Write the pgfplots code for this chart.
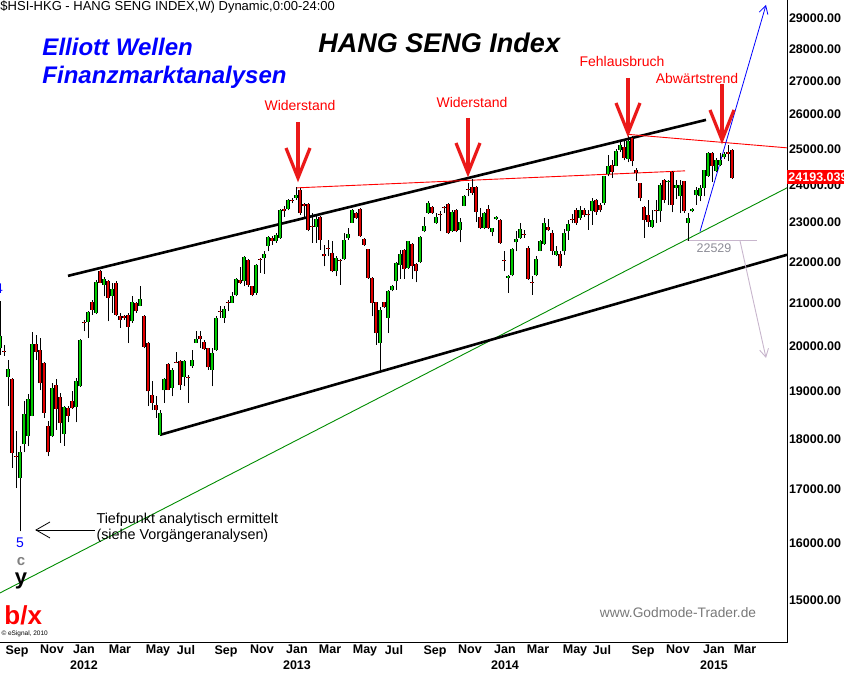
\documentclass[border=0pt]{standalone}
\usepackage{fontspec}
\setmainfont{Liberation Sans}
\usepackage{pgfplots}
\pgfplotsset{compat=1.18}
\usepackage{pgfplotstable}
\usetikzlibrary{arrows.meta}

\definecolor{cgreen}{RGB}{0,205,0}
\definecolor{cred}{RGB}{225,0,0}
\definecolor{ared}{RGB}{235,25,25}
\definecolor{tgreen}{RGB}{0,140,0}
\definecolor{greyline}{RGB}{200,182,205}
\definecolor{webgrey}{RGB}{120,120,120}
\definecolor{numgrey}{RGB}{140,140,150}

% weekly candles: g = week index (0 = last week of Aug 2011), o h l c
\pgfplotstableread{
g o h l c
0 19950 21050 19800 20215
2 19311 19692 18680 19494
5 17222 17848 16211 17737
6 17895 18800 17729 18520
7 18069 18947 17848 18842
8 18484 20308 18470 20045
13 18063 19180 18048 19070
16 18099 18680 17867 18674
19 18659 19290 18343 19231
20 19106 20161 19092 20138
22 20550 20807 20179 20790
24 20760 21561 20744 21505
26 21439 21627 21153 21578
28 21153 21480 20760 21334
33 20565 21153 20527 21017
35 20930 21415 20914 21090
40 18084 18610 18070 18541
41 19018 19290 18752 19275
43 19070 19510 18890 19457
46 19311 19692 19106 19655
48 19545 19912 19510 19692
49 20075 20331 20063 20154
53 19472 19949 19106 19839
54 19912 20680 19897 20643
56 20643 20914 20527 20853
58 21007 21251 20993 21153
59 21178 21602 21153 21578
61 21519 22152 21397 22119
64 21236 21951 21195 21927
66 22093 22261 21707 22200
67 22406 22642 22261 22627
69 22515 22728 22474 22685
70 22601 23354 22576 23335
72 23354 23620 23317 23582
74 23646 23939 23601 23734
79 22896 23175 22474 23088
84 21763 22134 21641 22093
86 22068 22728 22051 22558
87 22591 22855 22558 22710
88 22997 23354 22982 23335
95 20063 20900 19435 20821
97 20643 21300 20294 21275
98 21300 21439 21275 21397
99 21519 21983 21317 21968
100 21927 22304 21578 22200
102 21846 22533 21822 22515
105 21983 22642 21968 22627
106 22787 23141 22744 22914
107 23247 23556 23229 23513
109 22982 23247 22964 23141
113 22769 23335 22753 23263
115 22812 23114 22490 23024
116 23441 23734 23423 23707
121 22855 23263 22830 23247
123 22753 22870 22642 22855
124 23088 23175 23062 23141
127 21602 21683 21236 21641
128 21666 22347 21641 22322
129 22490 22769 22261 22576
130 22601 22997 22576 22830
134 21683 22134 21641 22068
135 22279 22558 22261 22515
136 22449 23114 22431 22997
139 22177 22388 22134 22279
141 22261 22830 22177 22728
142 22769 23066 22558 22957
145 23114 23423 23066 23335
148 23290 23646 22939 23556
151 23513 24250 23468 24231
152 24297 24833 24231 24528
154 24528 24991 24509 24944
155 24972 25260 24925 25116
157 24722 25380 24620 25211
163 22896 23335 22855 23066
165 23290 24047 23024 24000
167 24080 24139 23468 24100
169 23912 24139 23620 24000
170 23689 24139 23247 24000
172 22982 23247 22529 23114
173 23290 23380 23263 23354
174 23715 23956 23468 23867
175 23689 24000 23556 23912
176 23912 24416 23689 24397
177 24250 24925 24214 24880
179 24370 24741 24342 24694
180 24556 24880 24509 24694
181 24758 24925 24713 24853
}\upcandles

\pgfplotstableread{
g o h l c
1 19880 20020 19780 19870
3 19275 19290 17420 17717
4 17660 18154 17024 17640
9 20045 20254 19677 19875
10 19912 20179 19018 19180
11 19619 19633 18436 18541
12 18259 18379 17650 17729
14 19128 19268 18190 18625
15 18884 18962 17927 18331
17 18646 18695 18343 18484
18 18800 18996 18625 18646
21 20540 20604 20331 20520
23 21030 21070 20720 20837
25 21773 21790 21470 21480
27 21519 21561 20565 21114
29 21480 21519 20680 20720
30 20697 20760 20410 20604
31 20680 20720 20604 20650
32 20720 20760 20063 20433
34 21007 21030 20760 20797
36 20680 20720 19949 19985
37 20063 20080 18680 18996
38 18926 19215 18610 18752
39 18716 18890 18436 18610
42 19604 19619 19018 19033
44 19640 19875 19619 19625
45 19655 19692 19033 19128
47 19320 19362 18752 19300
50 20215 20331 19949 20154
51 20084 20138 19912 19927
52 19949 19963 19472 19523
55 20800 20914 20643 20790
57 21020 21070 20797 21010
60 21561 21871 21464 21480
62 22051 22068 21383 21439
63 21397 21415 21153 21195
65 22060 22093 21724 22045
68 22601 22660 22431 22533
71 23362 23423 23157 23290
73 23605 23646 23513 23595
75 23867 23912 23202 23247
76 23494 23510 23114 23423
77 23494 23510 22769 22812
78 22900 23247 22474 22890
80 23141 23175 22304 22558
81 22200 22431 21885 22134
82 22355 22558 22134 22340
83 22218 22533 21739 21763
85 22040 22068 21439 22025
89 23247 23263 23088 23114
90 23354 23370 22627 22642
91 22576 22591 22406 22423
92 22322 22330 21578 21602
93 21602 21627 20680 20993
94 21017 21030 20023 20294
96 21017 21030 20877 20900
101 22304 22322 21578 21822
103 22457 22474 21578 21885
104 21944 21968 21495 21763
108 23407 23423 23229 23247
110 23230 23290 22769 23215
111 23400 23423 23247 23390
112 23486 23513 22710 22728
114 23335 23354 22753 22769
117 23895 24050 23689 23880
118 23955 24170 23734 23779
119 23955 23973 23024 23274
120 23141 23380 22830 22855
122 23354 23468 22830 22855
125 23069 23088 22457 22474
126 22040 22261 21763 22025
131 22710 22812 22601 22695
132 22347 22389 21561 21578
133 21505 21641 21195 21480
137 22896 23088 22769 22794
138 22728 22812 22177 22279
140 22193 22261 21846 21885
143 23100 23221 22982 23085
144 23335 23380 22939 22982
146 23317 23380 23157 23202
147 23210 23335 22812 23195
149 23601 23620 23202 23263
150 23468 23513 23263 23317
153 24556 24694 24186 24342
156 25066 25260 24675 24741
158 25310 25356 24508 24648
159 24416 24463 24120 24325
160 24047 24064 23556 23646
161 23407 23423 22601 23066
162 23202 23601 22896 23024
164 23335 23601 22982 23290
166 24139 24158 23513 23601
168 24342 24370 23263 23468
171 24111 24120 23247 23290
178 24880 24925 24092 24528
182 24908 25116 24647 24853
183 24972 24991 24160 24193
}\downcandles

\pgfplotsset{candle/.style={only marks, mark=*, mark size=0pt,
  mark options={draw opacity=0, fill opacity=0}, forget plot,
  error bars/y dir=plus, error bars/y explicit, error bars/error mark=none}}

\begin{document}
% 1 reference pixel = 0.4pt
\begin{tikzpicture}
\begin{axis}[
  at={(0pt,12.4pt)}, anchor=south west,
  scale only axis, width=314.8pt, height=257.2pt,
  xmin=0, xmax=196.75,
  ymode=log, ymin=14287, ymax=29597,
  axis x line*=bottom, axis y line*=right,
  axis line style={black, line width=0.4pt, -},
  major tick length=0pt, minor tick length=0pt,
  ytick={15000,16000,17000,18000,19000,20000,21000,22000,23000,24000,25000,26000,27000,28000,29000},
  yticklabels={15000.00,16000.00,17000.00,18000.00,19000.00,20000.00,21000.00,22000.00,23000.00,24000.00,25000.00,26000.00,27000.00,28000.00,29000.00},
  yticklabel style={font=\fontsize{5}{5.6}\selectfont\bfseries, anchor=west, inner sep=0.6pt, text=black},
  xtick={4.25,13,21,30,39.5,46.5,56.5,65.5,74.25,82.5,91.25,98.5,108.75,117.5,126.25,134.5,143.75,150.5,160.75,169.5,178.5,186.25},
  xticklabels={Sep,Nov,{Jan\\2012},Mar,May,Jul,Sep,Nov,{Jan\\2013},Mar,May,Jul,Sep,Nov,{Jan\\2014},Mar,May,Jul,Sep,Nov,{Jan\\2015},Mar},
  xticklabel style={font=\fontsize{5}{6.4}\selectfont\bfseries, align=center, anchor=north, inner sep=0.8pt},
  clip=true,
]
% trend lines
\addplot[tgreen, line width=0.36pt, forget plot] coordinates {(0,15119) (196.75,23921)};
\addplot[black, line width=1.04pt, forget plot] coordinates {(17,21652) (176.5,25836)};
\addplot[black, line width=1.04pt, forget plot] coordinates {(40,18084) (196.75,22174)};
\addplot[red, line width=0.36pt, forget plot] coordinates {(74.25,23921) (171.25,24386)};
\addplot[red, line width=0.36pt, forget plot] coordinates {(157,25415) (196.75,25030)};
\addplot[greyline, line width=0.36pt, forget plot] coordinates {(171.75,22529) (189.25,22529)};
\addplot[greyline, line width=0.36pt, forget plot, -{Straight Barb[length=3.2pt,width=3.6pt]}] coordinates {(185,22529) (191.5,19732)};
\addplot[blue, line width=0.32pt, forget plot, -{Straight Barb[length=3.2pt,width=3.6pt]}] coordinates {(175,22766) (191.5,29430)};

% wicks
\addplot[candle, error bars/error bar style={black, line width=0.4pt, solid, draw opacity=1}]
  table[x=g, y=l, y error plus expr=\thisrow{h}-\thisrow{l}] {\upcandles};
\addplot[candle, error bars/error bar style={black, line width=0.4pt, solid, draw opacity=1}]
  table[x=g, y=l, y error plus expr=\thisrow{h}-\thisrow{l}] {\downcandles};
% body outlines
\addplot[candle, error bars/error bar style={black, line width=1.28pt, line cap=butt, solid, draw opacity=1}]
  table[x=g, y=o, y error plus expr=\thisrow{c}-\thisrow{o}] {\upcandles};
\addplot[candle, error bars/error bar style={black, line width=1.28pt, line cap=butt, solid, draw opacity=1}]
  table[x=g, y=c, y error plus expr=\thisrow{o}-\thisrow{c}] {\downcandles};
% body fills
\addplot[candle, error bars/error bar style={cgreen, line width=0.52pt, line cap=butt, solid, draw opacity=1}]
  table[x=g, y=o, y error plus expr=\thisrow{c}-\thisrow{o}] {\upcandles};
\addplot[candle, error bars/error bar style={cred, line width=0.52pt, line cap=butt, solid, draw opacity=1}]
  table[x=g, y=c, y error plus expr=\thisrow{o}-\thisrow{c}] {\downcandles};
\end{axis}

\begin{scope}[x=0.4pt,y=0.4pt]
% header and titles
\node[anchor=west, inner sep=0, font=\fontsize{5.2}{6}\selectfont] at (0,667) {\$HSI-HKG - HANG SENG INDEX,W) Dynamic,0:00-24:00};
\node[anchor=west, inner sep=0, text=blue, font=\fontsize{9.6}{11}\selectfont\bfseries\itshape] at (42,627) {Elliott Wellen};
\node[anchor=west, inner sep=0, text=blue, font=\fontsize{9.6}{11}\selectfont\bfseries\itshape] at (42,597) {Finanzmarktanalysen};
\node[anchor=west, inner sep=0, font=\fontsize{10.8}{12}\selectfont\bfseries\itshape] at (318,631) {HANG SENG Index};

% annotations
\node[text=red, inner sep=0, font=\fontsize{5.6}{6.4}\selectfont] at (300,568) {Widerstand};
\node[text=red, inner sep=0, font=\fontsize{5.6}{6.4}\selectfont] at (472,571) {Widerstand};
\node[text=red, inner sep=0, font=\fontsize{5.6}{6.4}\selectfont] at (622,612) {Fehlausbruch};
\node[text=red, inner sep=0, font=\fontsize{5.6}{6.4}\selectfont] at (697,595) {Abwärtstrend};

\foreach \x/\t/\b in {298/552/496, 468/556/501, 628/596/541, 722/590/534}{
  \draw[ared, line width=1.28pt, line cap=butt] (\x,\t) -- (\x,\b+2);
  \draw[ared, line width=1.28pt, line join=miter] (\x-12,\b+30) -- (\x,\b) -- (\x+12,\b+30);
}

\node[anchor=west, inner sep=0, font=\fontsize{5.75}{6.4}\selectfont] at (96,154) {Tiefpunkt analytisch ermittelt};
\node[anchor=west, inner sep=0, font=\fontsize{5.75}{6.4}\selectfont] at (96,138) {(siehe Vorgängeranalysen)};
\draw[black, line width=0.32pt] (95,144) -- (36,144);
\draw[black, line width=0.32pt] (50,152) -- (36,144) -- (50,136);

\node[text=blue, inner sep=0, font=\fontsize{5.6}{6.4}\selectfont] at (20,131) {5};
\node[text=blue, inner sep=0, font=\fontsize{5.6}{6.4}\selectfont] at (-1,385) {4};
\node[text=gray, inner sep=0, font=\fontsize{6}{6.4}\selectfont\bfseries] at (21,112) {c};
\node[text=black, inner sep=0, font=\fontsize{8.8}{9.6}\selectfont\bfseries] at (21,93) {y};
\node[anchor=west, text=red, inner sep=0, font=\fontsize{10.4}{11.2}\selectfont\bfseries] at (4,59) {b/x};

\node[text=numgrey, inner sep=0, font=\fontsize{5}{5.6}\selectfont] at (714,426) {22529};
\node[text=webgrey, inner sep=0, font=\fontsize{5.5}{6}\selectfont] at (678,61) {www.Godmode-Trader.de};
\node[anchor=west, inner sep=0, font=\fontsize{2.6}{3.2}\selectfont] at (1,40) {\textcopyright{} eSignal, 2010};

% last price box
\fill[red] (787,490) rectangle (846,504);
\node[anchor=west, inner sep=0, text=white, font=\fontsize{5}{5.6}\selectfont\bfseries] at (788,497) {24193.039};
\end{scope}

\pgfresetboundingbox
\useasboundingbox (0pt,0pt) rectangle (337.6pt,269.6pt);
\end{tikzpicture}
\end{document}
